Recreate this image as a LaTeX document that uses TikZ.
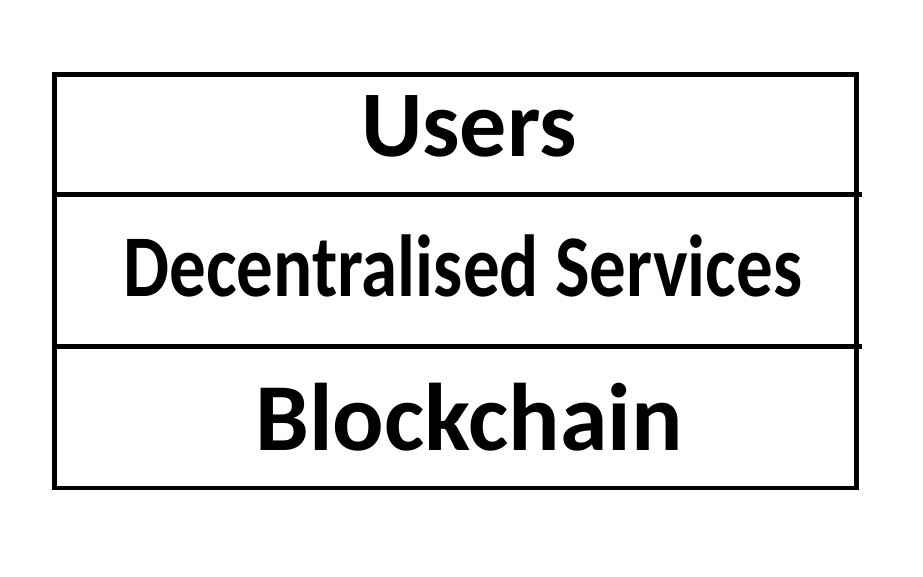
\documentclass[tikz,border=0pt]{standalone}
\usepackage{fontspec}
\setmainfont{Carlito}
\usepackage{tikz}
\usetikzlibrary{positioning,calc}
\tikzset{
  layer/.style={draw=black,line width=4.7pt,minimum width=802pt,
                inner sep=0pt,outer sep=0pt,anchor=north west},
  layertext/.style={inner sep=0pt,anchor=base,font=\bfseries},
  divider/.style={draw=black,line width=4.7pt}
}

\begin{document}
\begin{tikzpicture}[x=1pt,y=-1pt]
    \path[use as bounding box,fill=white] (0,0) rectangle (923,577);

    % the three stacked layers
    \node[layer,minimum height=120pt] (users) at (54.5,74.5) {};
    \node[layer,minimum height=152pt] (services) at (users.south west) {};
    \node[layer,minimum height=141.5pt] (chain) at (services.south west) {};

    % dividers run a little past the right edge
    \draw[divider] (users.south west) -- ($(users.south east)+(5,0)$);
    \draw[divider] (services.south west) -- ($(services.south east)+(5,0)$);

    \node[layertext] (userstext) at (469,157)
      {\fontsize{94}{98}\selectfont Users};
    \node[layertext,xscale=0.83] (servicestext) at (463,296)
      {\fontsize{88}{92}\selectfont Decentralised Services};
    \node[layertext] (chaintext) at (469,450)
      {\fontsize{96}{100}\selectfont Blockchain};
\end{tikzpicture}
\end{document}
